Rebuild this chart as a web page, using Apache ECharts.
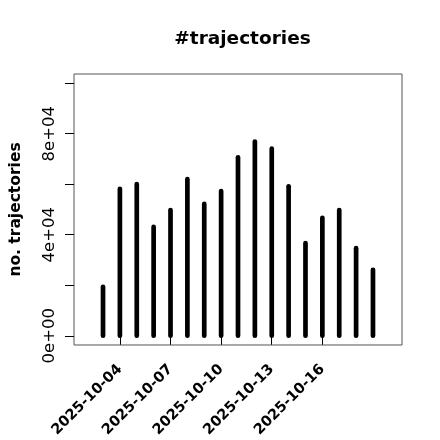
<!DOCTYPE html>
<html>
<head>
<meta charset="utf-8">
<script src="https://cdn.jsdelivr.net/npm/echarts@6/dist/echarts.min.js"></script>
<style>
  html, body { margin: 0; padding: 0; background: #fff; }
  #main { width: 440px; height: 440px; }
</style>
</head>
<body>
<div id="main"></div>
<script>
// daily counts
const dates = ["2025-10-03", "2025-10-04", "2025-10-05", "2025-10-06", "2025-10-07", "2025-10-08",
  "2025-10-09", "2025-10-10", "2025-10-11", "2025-10-12", "2025-10-13", "2025-10-14",
  "2025-10-15", "2025-10-16", "2025-10-17", "2025-10-18", "2025-10-19"];
const counts = [19400, 58200, 60100, 43100, 49800, 62000, 52200, 57300, 70700, 76900, 74100,
  59200, 36700, 46700, 49800, 34700, 26100];
const xTickDays = [4, 7, 10, 13, 16];
const yTicks = [0, 20000, 40000, 60000, 80000, 100000];
const yTickLabels = [0, 40000, 80000];

const dayOf = d => parseInt(d.slice(8), 10);
const points = dates.map((d, i) => [dayOf(d), counts[i]]);
const sci = v => v === 0 ? "0e+00" : (v / Math.pow(10, 4)) + "e+04";

let chartDom = document.getElementById("main");
let myChart = echarts.init(chartDom);
let option = {
  animation: false,
  title: {
    text: "#trajectories",
    left: 237.5,
    top: 25,
    textAlign: "center",
    textStyle: { fontFamily: "DejaVu Sans", fontWeight: "bold", fontSize: 18.5, color: "#000" }
  },
  grid: { left: 73, right: 38, top: 74, bottom: 93, show: true, borderColor: "#555", borderWidth: 1 },
  xAxis: {
    type: "value",
    min: 1.28,
    max: 20.72,
    axisLine: { show: false },
    splitLine: { show: false },
    axisTick: { show: true, length: 9, customValues: xTickDays, lineStyle: { color: "#000" } },
    axisLabel: {
      customValues: xTickDays,
      rotate: 45,
      margin: 22,
      fontFamily: "DejaVu Sans",
      fontWeight: "bold",
      fontSize: 14.5,
      color: "#000",
      formatter: v => "2025-10-" + String(v).padStart(2, "0")
    }
  },
  yAxis: {
    type: "value",
    min: -3660,
    max: 103660,
    name: "no. trajectories",
    nameLocation: "middle",
    nameGap: 50,
    nameTextStyle: { fontFamily: "DejaVu Sans", fontWeight: "bold", fontSize: 15.5, color: "#000" },
    axisLine: { show: false },
    splitLine: { show: false },
    axisTick: { show: true, length: 9, customValues: yTicks, lineStyle: { color: "#000" } },
    axisLabel: {
      customValues: yTickLabels,
      rotate: 90,
      margin: 16,
      fontFamily: "DejaVu Sans",
      fontSize: 16.5,
      color: "#000",
      formatter: sci
    }
  },
  series: [{
    type: "custom",
    data: points,
    renderItem: function (params, api) {
      const top = api.coord([api.value(0), api.value(1)]);
      const base = api.coord([api.value(0), 0]);
      return {
        type: "line",
        shape: { x1: base[0], y1: base[1], x2: top[0], y2: top[1] },
        style: { stroke: "#000", lineWidth: 4.7, lineCap: "round" }
      };
    }
  }]
};
option && myChart.setOption(option);
</script>
</body>
</html>
